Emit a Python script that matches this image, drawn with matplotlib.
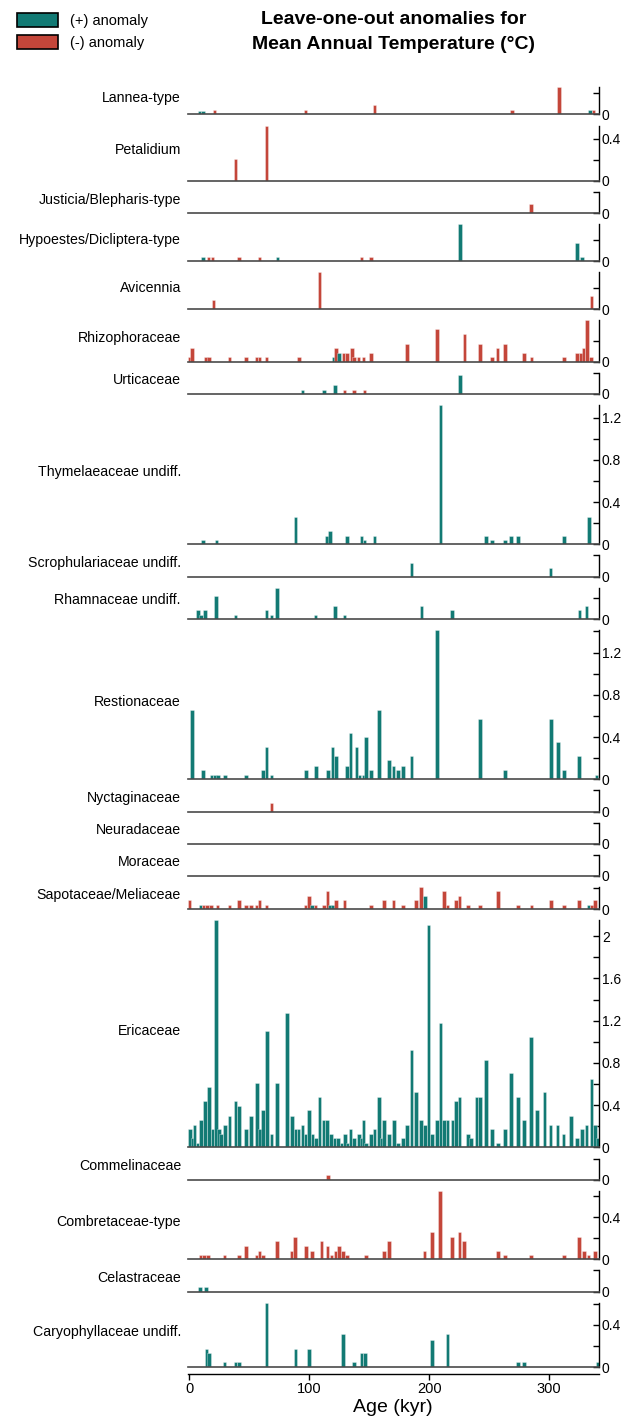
import numpy as np
import matplotlib
matplotlib.use('Agg')
from matplotlib import pyplot as plt
from matplotlib.patches import Patch
from matplotlib.ticker import MultipleLocator, FuncFormatter

plt.rcParams['font.family'] = ['Liberation Sans', 'DejaVu Sans']

# ages in kyr, signed anomaly (+ teal, - red)
lannea_age = [8.5, 11.5, 21, 97, 154.5, 269, 308, 334, 337]
lannea_val = [0.035, 0.035, -0.04, -0.04, -0.09, -0.04, -0.26, 0.04, -0.04]

petal_age = [38.6, 64.5]
petal_val = [-0.21, -0.525]

justicia_age = [284.8]
justicia_val = [-0.085]

hypo_age = [11.3, 16.1, 19.2, 41.4, 58.4, 73.6, 143.4, 151.3, 225.4, 323, 327.1]
hypo_val = [0.041, -0.041, -0.041, -0.041, -0.041, 0.041, -0.041, -0.041, 0.35, 0.174, 0.041]

avic_age = [20.3, 108.6, 335.3]
avic_val = [-0.088, -0.35, -0.13]

rhizo_age = [0, 2.5, 13.9, 16.4, 33.5, 47.4, 56.1, 58.6, 64.3, 91.3, 120.3, 122.1, 124.6,
             128.4, 131.4, 135.6, 137.5, 141.1, 145.3, 151.3, 181.3, 206.4, 229.5, 242.1,
             252.1, 257, 262.9, 278.8, 285.2, 312.1, 323.2, 326.3, 328.5, 331.3, 334.9]
rhizo_val = [-0.041, -0.126, -0.041, -0.041, -0.041, -0.041, -0.041, -0.041, -0.041, -0.041,
             0.041, -0.126, 0.085, -0.085, -0.085, -0.126, -0.041, -0.041, -0.041, -0.08,
             -0.17, -0.31, -0.26, -0.17, -0.041, -0.126, -0.17, -0.08, -0.041, -0.041,
             -0.08, -0.08, -0.126, -0.39, -0.041]

urtic_age = [94.5, 112.5, 121.3, 129.3, 137.4, 146, 225.4]
urtic_val = [0.04, 0.04, 0.085, -0.04, -0.04, -0.04, 0.174]

thyme_age = [11.3, 22.7, 88.5, 114.6, 117.5, 131.4, 143.4, 145.9, 154.5, 209.5, 247.3,
             252.1, 263.1, 268.1, 274.2, 312.25, 333.2]
thyme_val = [0.041, 0.041, 0.26, 0.082, 0.126, 0.082, 0.082, 0.041, 0.082, 1.32, 0.082,
             0.041, 0.041, 0.082, 0.082, 0.082, 0.26]

scroph_age = [185.3, 301.1]
scroph_val = [0.126, 0.08]

rhamn_age = [7.25, 9.9, 13.1, 22.5, 38.6, 64.5, 68.4, 73.2, 105.3, 121.3, 129.2, 193.4,
             219, 325.2, 331.1]
rhamn_val = [0.085, 0.041, 0.085, 0.22, 0.041, 0.085, 0.041, 0.30, 0.041, 0.126, 0.041,
             0.126, 0.085, 0.085, 0.126]

restio_age = [2.25, 11.3, 18.5, 21.3, 24.1, 29.6, 47.4, 61.3, 64.3, 68.4, 97.4, 105.4,
              115.4, 119.2, 122.1, 131.3, 134.3, 139.3, 142, 145.3, 147.25, 151.3, 158.2,
              166.3, 170.2, 174.2, 178.2, 185.3, 206.3, 242.1, 262.9, 301.3, 307.1, 312.1,
              324.9, 339.3]
restio_val = [0.66, 0.088, 0.044, 0.044, 0.044, 0.044, 0.044, 0.088, 0.31, 0.044, 0.088,
              0.13, 0.088, 0.31, 0.22, 0.13, 0.44, 0.31, 0.044, 0.044, 0.40, 0.088, 0.66,
              0.18, 0.13, 0.088, 0.13, 0.22, 1.41, 0.57, 0.088, 0.57, 0.35, 0.088, 0.22, 0.044]

nyct_age = [68.6]
nyct_val = [-0.085]

neura_age = []
neura_val = []

mora_age = []
mora_val = []

sapo_age = [0.3, 9.2, 12, 15, 18, 23.6, 33.5, 41.4, 47.4, 51.3, 56, 58.6, 64.3, 97, 99.8,
            102.4, 105.3, 112.5, 115.3, 117.5, 119.8, 122.25, 129.3, 151.4, 162.1, 170.2,
            178.1, 189.2, 193.2, 196.3, 212.1, 215.2, 222.1, 225.2, 232.1, 242.1, 257.1,
            273.8, 285.2, 301.3, 312.1, 324.9, 332.8, 335.6, 338.4]
sapo_val = [-0.085, 0.041, -0.041, -0.041, -0.041, -0.041, -0.041, -0.085, -0.041, -0.041,
            -0.041, -0.085, -0.041, -0.041, -0.13, 0.041, -0.041, -0.041, -0.17, 0.041,
            0.041, -0.085, -0.085, -0.041, -0.085, -0.085, -0.041, -0.085, -0.21, 0.13,
            -0.17, -0.041, -0.085, -0.13, -0.041, -0.041, -0.17, -0.041, -0.041, -0.085,
            -0.041, -0.085, 0.041, -0.041, -0.085]

eric_age = [0.6, 2.7, 4.5, 6.8, 9.6, 13.2, 16.6, 19.5, 22.4, 24.6, 26.3, 29.6, 33.5, 38.4,
            41.4, 47.4, 51.6, 56.6, 59.1, 61.6, 64.6, 68.4, 73.2, 81.3, 85.4, 88.4, 91.1,
            94.3, 97, 99.6, 102.7, 105.6, 108.5, 111.7, 115, 118.1, 121, 123.9, 126.8,
            129.6, 132, 134.3, 137.4, 141.6, 143.5, 145.3, 147.4, 151.4, 154.5, 158, 160.2,
            162.1, 166.3, 170.4, 174.2, 178.2, 181.4, 185.3, 189.2, 193.1, 196.3, 199.3,
            202.25, 206.3, 209.3, 212.4, 215.3, 219.3, 222.25, 225.2, 232.1, 235, 239.5,
            242.25, 247.1, 252.1, 257.1, 263.2, 268, 274.1, 279.1, 285, 290, 296, 301.1,
            307, 311.8, 318, 323, 327.1, 331, 335.2, 338.2, 340.7]
eric_val = [0.17, 0.085, 0.21, 0.044, 0.26, 0.44, 0.57, 0.17, 2.15, 0.17, 0.13, 0.21, 0.30,
            0.44, 0.39, 0.17, 0.30, 0.61, 0.17, 0.35, 1.10, 0.13, 0.61, 1.27, 0.30, 0.17,
            0.17, 0.21, 0.13, 0.35, 0.13, 0.085, 0.48, 0.26, 0.26, 0.13, 0.085, 0.085, 0.044,
            0.13, 0.044, 0.17, 0.085, 0.13, 0.085, 0.26, 0.044, 0.13, 0.17, 0.48, 0.085,
            0.26, 0.13, 0.26, 0.04, 0.085, 0.21, 0.92, 0.52, 0.26, 0.21, 2.11, 0.13, 0.26,
            1.18, 0.26, 0.26, 0.26, 0.44, 0.48, 0.13, 0.085, 0.48, 0.48, 0.83, 0.17, 0.04,
            0.17, 0.70, 0.48, 0.26, 1.05, 0.35, 0.52, 0.21, 0.21, 0.13, 0.30, 0.085, 0.17,
            0.21, 0.65, 0.21, 0.085]

commel_age = [115.4]
commel_val = [-0.041]

combr_age = [9.5, 12.5, 15.6, 29.3, 41.3, 47.4, 56, 58.6, 61.4, 73.2, 85.3, 88.2, 97.1,
             102.1, 110.2, 115.2, 118.6, 121.8, 124.6, 128, 131.3, 147.1, 162.1, 166.3,
             196.1, 202.1, 209.1, 219.1, 225.2, 229.1, 257.1, 262.9, 284.9, 312.1, 324.9,
             329.1, 332.7, 338]
combr_val = [-0.041, -0.041, -0.041, -0.041, -0.041, -0.126, -0.041, -0.082, -0.041, -0.17,
             -0.082, -0.21, -0.126, -0.082, -0.17, -0.126, -0.041, -0.082, -0.126, -0.082,
             -0.041, -0.041, -0.082, -0.17, -0.082, -0.26, -0.65, -0.21, -0.26, -0.17,
             -0.082, -0.041, -0.041, -0.041, -0.21, -0.082, -0.041, -0.082]

celas_age = [9.1, 14.1]
celas_val = [0.041, 0.041]

caryo_age = [14.3, 16.6, 29.3, 38.4, 41.4, 64.3, 88.5, 99.6, 128.2, 137.1, 143.4, 146.7,
             202.1, 215.2, 274.1, 279.1, 340.2]
caryo_val = [0.174, 0.13, 0.044, 0.044, 0.044, 0.61, 0.174, 0.174, 0.31, 0.044, 0.13, 0.13,
             0.26, 0.31, 0.044, 0.044, 0.044]

panels = [
    ('Lannea-type', lannea_age, lannea_val),
    ('Petalidium', petal_age, petal_val),
    ('Justicia/Blepharis-type', justicia_age, justicia_val),
    ('Hypoestes/Dicliptera-type', hypo_age, hypo_val),
    ('Avicennia', avic_age, avic_val),
    ('Rhizophoraceae', rhizo_age, rhizo_val),
    ('Urticaceae', urtic_age, urtic_val),
    ('Thymelaeaceae undiff.', thyme_age, thyme_val),
    ('Scrophulariaceae undiff.', scroph_age, scroph_val),
    ('Rhamnaceae undiff.', rhamn_age, rhamn_val),
    ('Restionaceae', restio_age, restio_val),
    ('Nyctaginaceae', nyct_age, nyct_val),
    ('Neuradaceae', neura_age, neura_val),
    ('Moraceae', mora_age, mora_val),
    ('Sapotaceae/Meliaceae', sapo_age, sapo_val),
    ('Ericaceae', eric_age, eric_val),
    ('Commelinaceae', commel_age, commel_val),
    ('Combretaceae-type', combr_age, combr_val),
    ('Celastraceae', celas_age, celas_val),
    ('Caryophyllaceae undiff.', caryo_age, caryo_val),
]

teal = '#127a74'
red = '#c4463a'

W, H = 628, 1422
fig = plt.figure(figsize=(W / 100, H / 100), dpi=100)

ppu = 105.6     # pixels per anomaly unit
gap = 11.1
top = 87
left_px, right_px = 187.5, 599

fmt = FuncFormatter(lambda v, p: '%g' % round(v, 2))

axes = []
for name, age, val in panels:
    val = np.array(val, dtype=float)
    ymax = max(np.abs(val).max() if len(val) else 0, 0.2)
    h = ymax * ppu
    ax = fig.add_axes([left_px / W, 1 - (top + h) / H, (right_px - left_px) / W, h / H])
    cols = [teal if v > 0 else red for v in val]
    ax.bar(age, np.abs(val), width=3.0, color=cols, edgecolor=(1, 1, 1, 0.45),
           linewidth=0.5, zorder=2)
    ax.axhline(0, color='#4a4a4a', lw=1.2, clip_on=False, zorder=3)
    ax.set_xlim(-1.5, 341.5)
    ax.set_ylim(0, ymax)
    for s in ['top', 'left', 'bottom']:
        ax.spines[s].set_visible(False)
    ax.spines['right'].set_linewidth(1)
    ax.yaxis.tick_right()
    ax.yaxis.set_major_locator(MultipleLocator(0.4))
    ax.yaxis.set_minor_locator(MultipleLocator(0.2))
    ax.yaxis.set_major_formatter(fmt)
    ax.tick_params(axis='y', which='both', direction='in', length=4, width=1,
                   labelsize=10, pad=2)
    ax.set_xticks([])
    fig.text(181 / W, 1 - (top + h / 2 - 3) / H, name, ha='right', va='center', fontsize=10.2)
    axes.append(ax)
    top += h + gap

last = axes[-1]
last.spines['bottom'].set_visible(True)
last.spines['bottom'].set_position(('outward', 5))
last.spines['bottom'].set_linewidth(1)
last.set_xticks([0, 100, 200, 300])
last.tick_params(axis='x', direction='out', length=4, width=1, labelsize=10.5, pad=2)
last.set_xlabel('Age (kyr)', fontsize=14, labelpad=2)

fig.text(394 / W, 1 - 32 / H, 'Leave-one-out anomalies for\nMean Annual Temperature (°C)',
         ha='center', va='center', fontsize=14, fontweight='bold', linespacing=1.6)

handles = [Patch(facecolor=teal, edgecolor='black', lw=1.2),
           Patch(facecolor=red, edgecolor='black', lw=1.2)]
fig.legend(handles, ['(+) anomaly', '(-) anomaly'], loc='upper left',
           bbox_to_anchor=(17 / W, 1 - 13 / H), frameon=False, fontsize=10.5,
           handlelength=2.8, handleheight=1.1, handletextpad=0.8, labelspacing=0.5,
           borderpad=0, borderaxespad=0)

fig.savefig('out.png', dpi=100)
